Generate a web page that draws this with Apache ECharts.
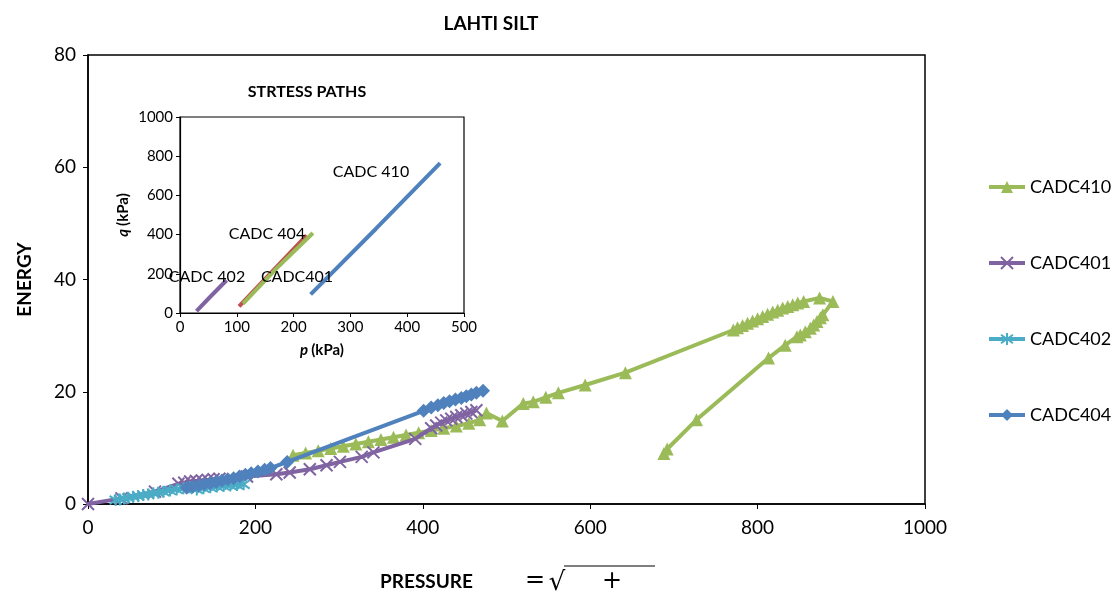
<!DOCTYPE html>
<html>
<head>
<meta charset="utf-8">
<script src="https://cdn.jsdelivr.net/npm/echarts@6/dist/echarts.min.js"></script>
<style>
  html, body { margin: 0; padding: 0; background: #fff; }
  #chart { width: 1119px; height: 599px; }
</style>
</head>
<body>
<div id="chart"></div>
<script>
// ---- Energy vs. pressure, Lahti silt (pressure, energy) ----
const cadc410 = [
  [245, 8.7], [260, 9.1], [275, 9.5], [290, 9.9], [305, 10.3], [320, 10.7], [335, 11.1],
  [350, 11.5], [365, 11.9], [380, 12.3], [395, 12.7], [410, 13.1], [425, 13.5], [440, 13.9],
  [455, 14.4], [468, 15.0], [476, 16.2], [495, 14.8], [520, 17.9], [532, 18.2], [547, 19.0],
  [562, 19.8], [594, 21.2], [642, 23.4], [771, 31.0], [776, 31.4], [782, 31.8], [788, 32.2],
  [794, 32.6], [800, 33.0], [806, 33.4], [812, 33.8], [818, 34.2], [824, 34.5], [830, 34.9],
  [836, 35.2], [842, 35.5], [848, 35.8], [855, 36.1], [874, 36.7], [890, 36.1], [878, 33.7],
  [875, 33.2], [871, 32.5], [867, 31.9], [863, 31.3], [857, 30.7], [851, 30.1], [847, 29.8],
  [833, 28.3], [813, 26.0], [727, 15.0], [692, 9.8], [688, 9.0]
];
const cadc401 = [
  [0, 0], [40, 1.0], [80, 2.2], [108, 3.6], [115, 3.8], [122, 4.0], [129, 4.1], [136, 4.2],
  [143, 4.3], [150, 4.4], [157, 4.5], [190, 4.9], [225, 5.3], [241, 5.6], [265, 6.2],
  [285, 6.9], [301, 7.5], [327, 8.4], [341, 9.2], [391, 11.6], [410, 13.5], [416, 14.0],
  [422, 14.5], [428, 14.9], [434, 15.2], [440, 15.5], [446, 15.8], [452, 16.1], [458, 16.4],
  [464, 16.7]
];
const cadc402 = [
  [33, 0.7], [38, 0.8], [43, 1.0], [48, 1.1], [54, 1.3], [60, 1.4], [66, 1.6], [72, 1.7],
  [78, 1.9], [84, 2.0], [90, 2.2], [98, 2.4], [106, 2.6], [114, 2.8], [122, 3.0], [130, 2.6],
  [138, 2.8], [146, 3.0], [154, 3.1], [162, 3.2], [170, 3.3], [178, 3.4], [186, 3.5]
];
const cadc404 = [
  [118, 2.9], [125, 3.1], [132, 3.3], [139, 3.5], [146, 3.7], [153, 3.9], [160, 4.2],
  [167, 4.4], [174, 4.6], [181, 4.9], [188, 5.2], [195, 5.5], [203, 5.8], [211, 6.1],
  [218, 6.4], [238, 7.5], [401, 16.6], [410, 17.2], [418, 17.6], [425, 18.0], [432, 18.3],
  [439, 18.6], [446, 18.9], [452, 19.2], [458, 19.5], [464, 19.8], [472, 20.2]
];

// ---- Stress paths inset (p kPa, q kPa) ----
const path402 = [[29, 10], [55, 88], [82, 167]];
const path401 = [[104, 34], [160, 205], [223, 396]];
const path404 = [[111, 48], [170, 228], [234, 408]];
const path410 = [[230, 95], [345, 430], [458, 765]];

const FONT = 'Lato, "Noto Sans", sans-serif';
const GREEN = '#9BBB59', PURPLE = '#8064A2', CYAN = '#4BACC6', BLUE = '#4F81BD', RED = '#C0504D';

const crossPath = 'path://M0,0L10,10M10,0L0,10';
const starPath = 'path://M5,0L5,10M0,1.5L10,8.5M10,1.5L0,8.5';

const plain = v => String(v);

const chart = echarts.init(document.getElementById('chart'), null, { renderer: 'canvas' });

const option = {
  animation: false,
  backgroundColor: '#ffffff',
  textStyle: { fontFamily: FONT, color: '#000' },
  title: {
    text: 'LAHTI SILT',
    left: 486, top: 9, textAlign: 'center',
    textStyle: { fontFamily: FONT, fontSize: 19, fontWeight: 'bold', color: '#000' }
  },
  legend: {
    orient: 'vertical',
    left: 987, top: 178, padding: 0,
    itemWidth: 36, itemHeight: 15, itemGap: 58,
    lineStyle: { width: 4 },
    textStyle: { fontFamily: FONT, fontSize: 18, color: '#000' },
    data: ['CADC410', 'CADC401', 'CADC402', 'CADC404']
  },
  grid: [
    { left: 88, top: 55, width: 837, height: 449, show: true, borderColor: '#000', borderWidth: 1.5 },
    { left: 180, top: 117, width: 284, height: 196, show: true, borderColor: '#000', borderWidth: 1.2, backgroundColor: '#fff', z: 5 }
  ],
  xAxis: [
    {
      gridIndex: 0, type: 'value', min: 0, max: 1000, interval: 200,
      name: 'PRESSURE', nameLocation: 'middle', nameGap: 68,
      nameTextStyle: { fontFamily: FONT, fontSize: 19, fontWeight: 'bold', color: '#000', padding: [0, 0, 0, -160] },
      axisLine: { lineStyle: { color: '#000', width: 1.5 } },
      axisTick: { inside: false, length: 5, lineStyle: { color: '#000' } },
      axisLabel: { fontFamily: FONT, fontSize: 19, color: '#000', margin: 14, formatter: plain },
      splitLine: { show: false }
    },
    {
      gridIndex: 1, type: 'value', min: 0, max: 500, interval: 100,
      name: '{i|p} {b|(kPa)}', nameLocation: 'middle', nameGap: 30,
      nameTextStyle: { rich: { i: { fontFamily: FONT, fontSize: 15, fontWeight: 'bold', fontStyle: 'italic' }, b: { fontFamily: FONT, fontSize: 15, fontWeight: 'bold' } } },
      axisLine: { lineStyle: { color: '#000', width: 1.2 } },
      axisTick: { length: 4, lineStyle: { color: '#000' } },
      axisLabel: { fontFamily: FONT, fontSize: 15, color: '#000', margin: 7, formatter: plain },
      splitLine: { show: false }, z: 6
    }
  ],
  yAxis: [
    {
      gridIndex: 0, type: 'value', min: 0, max: 80, interval: 20,
      name: 'ENERGY', nameLocation: 'middle', nameGap: 54,
      nameTextStyle: { fontFamily: FONT, fontSize: 19, fontWeight: 'bold', color: '#000' },
      axisLine: { lineStyle: { color: '#000', width: 1.5 } },
      axisTick: { length: 5, lineStyle: { color: '#000' } },
      axisLabel: { fontFamily: FONT, fontSize: 19, color: '#000', margin: 12, formatter: plain },
      splitLine: { show: false }
    },
    {
      gridIndex: 1, type: 'value', min: 0, max: 1000, interval: 200,
      name: '{i|q} {b|(kPa)}', nameLocation: 'middle', nameGap: 49,
      nameTextStyle: { rich: { i: { fontFamily: FONT, fontSize: 15, fontWeight: 'bold', fontStyle: 'italic' }, b: { fontFamily: FONT, fontSize: 15, fontWeight: 'bold' } } },
      axisLine: { lineStyle: { color: '#000', width: 1.2 } },
      axisTick: { length: 4, lineStyle: { color: '#000' } },
      axisLabel: { fontFamily: FONT, fontSize: 15, color: '#000', margin: 7, formatter: plain },
      splitLine: { show: false }, z: 6
    }
  ],
  series: [
    {
      name: 'CADC410', type: 'line', xAxisIndex: 0, yAxisIndex: 0, data: cadc410,
      symbol: 'triangle', symbolSize: 13,
      lineStyle: { color: GREEN, width: 4 }, itemStyle: { color: GREEN }, z: 2
    },
    {
      name: 'CADC401', type: 'line', xAxisIndex: 0, yAxisIndex: 0, data: cadc401,
      symbol: crossPath, symbolSize: 12,
      lineStyle: { color: PURPLE, width: 4 },
      itemStyle: { color: PURPLE, borderColor: PURPLE, borderWidth: 2 }, z: 3
    },
    {
      name: 'CADC402', type: 'line', xAxisIndex: 0, yAxisIndex: 0, data: cadc402,
      symbol: starPath, symbolSize: 12,
      lineStyle: { color: CYAN, width: 4 },
      itemStyle: { color: CYAN, borderColor: CYAN, borderWidth: 2 }, z: 4
    },
    {
      name: 'CADC404', type: 'line', xAxisIndex: 0, yAxisIndex: 0, data: cadc404,
      symbol: 'diamond', symbolSize: 14,
      lineStyle: { color: BLUE, width: 4 }, itemStyle: { color: BLUE }, z: 5
    },
    // stress paths inset
    { name: 'p401', type: 'line', xAxisIndex: 1, yAxisIndex: 1, data: path401, symbol: 'none',
      lineStyle: { color: RED, width: 4 }, z: 7 },
    { name: 'p404', type: 'line', xAxisIndex: 1, yAxisIndex: 1, data: path404, symbol: 'none',
      lineStyle: { color: GREEN, width: 4 }, z: 7 },
    { name: 'p402', type: 'line', xAxisIndex: 1, yAxisIndex: 1, data: path402, symbol: 'none',
      lineStyle: { color: PURPLE, width: 4 }, z: 7 },
    { name: 'p410', type: 'line', xAxisIndex: 1, yAxisIndex: 1, data: path410, symbol: 'none',
      lineStyle: { color: BLUE, width: 4 }, z: 7 }
  ],
  graphic: [
    { type: 'text', z: 10, x: 307, y: 92,
      style: { text: 'STRTESS PATHS', font: 'bold 16px ' + FONT, fill: '#000', textAlign: 'center', textVerticalAlign: 'middle' } },
    { type: 'text', z: 10, x: 371, y: 172,
      style: { text: 'CADC 410', font: '16px ' + FONT, fill: '#000', textAlign: 'center', textVerticalAlign: 'middle' } },
    { type: 'text', z: 10, x: 267, y: 234,
      style: { text: 'CADC 404', font: '16px ' + FONT, fill: '#000', textAlign: 'center', textVerticalAlign: 'middle' } },
    { type: 'text', z: 10, x: 207, y: 277,
      style: { text: 'CADC 402', font: '16px ' + FONT, fill: '#000', textAlign: 'center', textVerticalAlign: 'middle' } },
    { type: 'text', z: 10, x: 297, y: 277,
      style: { text: 'CADC401', font: '16px ' + FONT, fill: '#000', textAlign: 'center', textVerticalAlign: 'middle' } },
    // pressure definition next to the axis name
    { type: 'text', z: 10, x: 535, y: 581,
      style: { text: '=', font: '24px "DejaVu Sans", sans-serif', fill: '#000', textAlign: 'center', textVerticalAlign: 'middle' } },
    { type: 'text', z: 10, x: 557, y: 583,
      style: { text: '\u221A', font: '26px "DejaVu Sans", sans-serif', fill: '#000', textAlign: 'center', textVerticalAlign: 'middle' } },
    { type: 'line', z: 10, shape: { x1: 564, y1: 566, x2: 655, y2: 566 }, style: { stroke: '#000', lineWidth: 1.2 } },
    { type: 'text', z: 10, x: 612, y: 582,
      style: { text: '+', font: '24px "DejaVu Sans", sans-serif', fill: '#000', textAlign: 'center', textVerticalAlign: 'middle' } }
  ]
};

chart.setOption(option);
</script>
</body>
</html>
